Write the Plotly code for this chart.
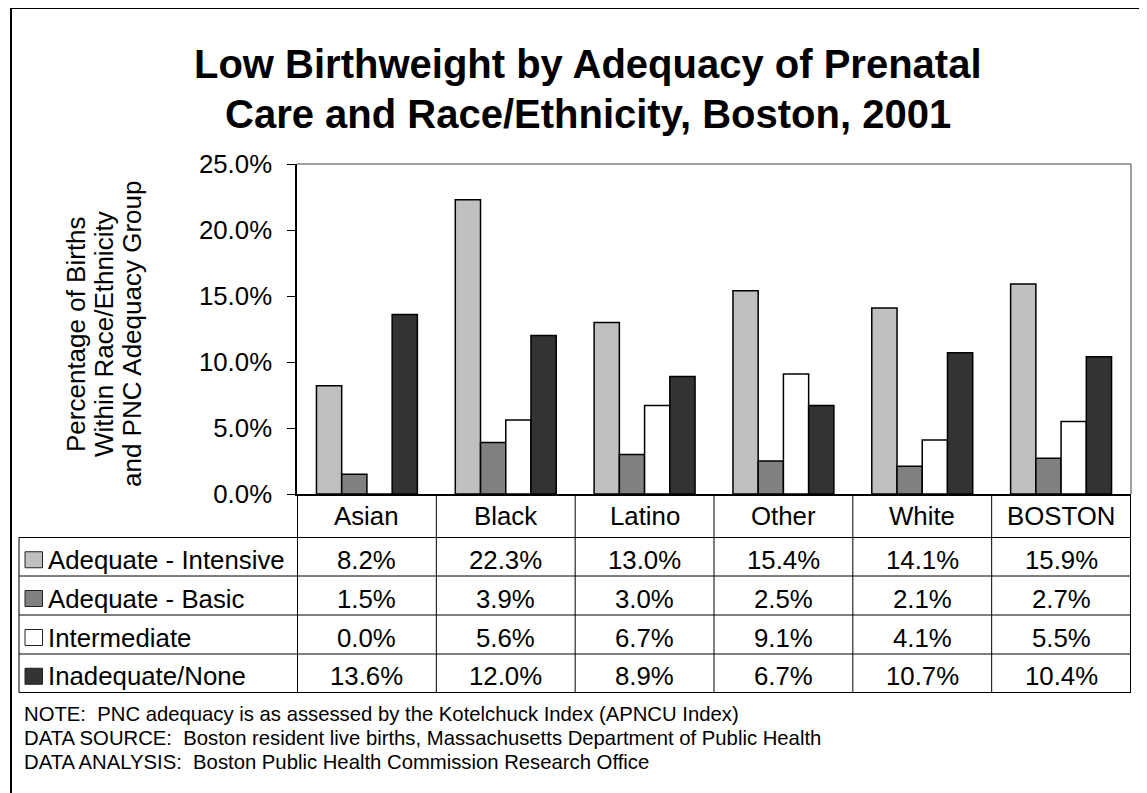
import plotly.graph_objects as go

FONT = "Arial, 'Liberation Sans', sans-serif"

categories = ["Asian", "Black", "Latino", "Other", "White", "BOSTON"]
series_names = ["Adequate - Intensive", "Adequate - Basic", "Intermediate", "Inadequate/None"]
adequate_intensive = [8.2, 22.3, 13.0, 15.4, 14.1, 15.9]
adequate_basic = [1.5, 3.9, 3.0, 2.5, 2.1, 2.7]
intermediate = [0.0, 5.6, 6.7, 9.1, 4.1, 5.5]
inadequate_none = [13.6, 12.0, 8.9, 6.7, 10.7, 10.4]
series_values = [adequate_intensive, adequate_basic, intermediate, inadequate_none]
series_colors = ["#c0c0c0", "#808080", "#ffffff", "#333333"]

title_lines = ["Low Birthweight by Adequacy of Prenatal",
               "Care and Race/Ethnicity, Boston, 2001"]
ytitle_lines = ["Percentage of Births", "Within Race/Ethnicity", "and PNC Adequacy Group"]
notes = [
    "NOTE:  PNC adequacy is as assessed by the Kotelchuck Index (APNCU Index)",
    "DATA SOURCE:  Boston resident live births, Massachusetts Department of Public Health",
    "DATA ANALYSIS:  Boston Public Health Commission Research Office",
]

# page body has an 8px margin, so the figure is shrunk and shifted to fit the window
OFF = 8
W, H = 1147 - OFF, 793 - OFF
L, R, T, B = 297 - OFF, 16, 164 - OFF, 299
PW, PH = W - L - R, H - T - B
TXT = 25.8


def px(x):
    # page pixel -> paper x
    return (x - OFF - L) / PW


def py(y):
    # page pixel -> paper y
    return (H - B - (y - OFF)) / PH


fig = go.Figure()
for name, vals, color in zip(series_names, series_values, series_colors):
    fig.add_trace(go.Bar(
        x=categories, y=[v / 100 for v in vals], name=name,
        marker=dict(color=color, line=dict(color="black", width=1.5)),
    ))

shapes = []
line_k = dict(color="black", width=1)
# outer frame
shapes.append(dict(type="rect", xref="paper", yref="paper",
                   x0=px(11), x1=px(1170), y0=py(8), y1=py(830),
                   line=dict(color="black", width=2)))
# plot area top/right border
shapes.append(dict(type="line", xref="paper", yref="paper",
                   x0=0, x1=1, y0=1, y1=1, line=dict(color="#808080", width=1.5)))
shapes.append(dict(type="line", xref="paper", yref="paper",
                   x0=1, x1=1, y0=0, y1=1, line=dict(color="#808080", width=1.5)))

# data table grid
row_edges = [537.5, 576, 615, 654, 692.5]
for y in row_edges:
    shapes.append(dict(type="line", xref="paper", yref="paper",
                       x0=px(19), x1=1, y0=py(y), y1=py(y), line=line_k))
shapes.append(dict(type="line", xref="paper", yref="paper",
                   x0=px(19), x1=px(19), y0=py(row_edges[0]), y1=py(row_edges[-1]), line=line_k))
for k in range(len(categories) + 1):
    shapes.append(dict(type="line", xref="x", yref="paper",
                       x0=k - 0.5, x1=k - 0.5, y0=0, y1=py(row_edges[-1]), line=line_k))

annotations = []
# title
for i, txt in enumerate(title_lines):
    annotations.append(dict(text=f"<b>{txt}</b>", xref="paper", yref="paper",
                            x=px(588), y=py(64 + 50 * i), xanchor="center", yanchor="middle",
                            showarrow=False, font=dict(family=FONT, size=40, color="black")))
# y-axis title
for i, txt in enumerate(ytitle_lines):
    annotations.append(dict(text=txt, xref="paper", yref="paper", textangle=-90,
                            x=px(76 + 28 * i), y=py(334), xanchor="center", yanchor="middle",
                            showarrow=False, font=dict(family=FONT, size=26, color="black")))
# header row
for c in categories:
    annotations.append(dict(text=c, xref="x", yref="paper", x=c, y=py(516),
                            xanchor="center", yanchor="middle", showarrow=False,
                            font=dict(family=FONT, size=TXT, color="black")))
# value rows with legend keys
for r, (name, vals, color) in enumerate(zip(series_names, series_values, series_colors)):
    yc = (row_edges[r] + row_edges[r + 1]) / 2 + 3
    shapes.append(dict(type="rect", xref="paper", yref="paper",
                       x0=px(25), x1=px(42.5), y0=py(yc - 8), y1=py(yc + 8),
                       fillcolor=color, line=dict(color="#222222", width=1)))
    annotations.append(dict(text=name, xref="paper", yref="paper", x=px(46), y=py(yc),
                            xanchor="left", yanchor="middle", showarrow=False,
                            font=dict(family=FONT, size=TXT, color="black")))
    for c, v in zip(categories, vals):
        annotations.append(dict(text=f"{v:.1f}%", xref="x", yref="paper", x=c, y=py(yc),
                                xanchor="center", yanchor="middle", showarrow=False,
                                font=dict(family=FONT, size=TXT, color="black")))
# notes
for i, txt in enumerate(notes):
    annotations.append(dict(text=txt, xref="paper", yref="paper", x=px(22), y=py(714 + 24 * i),
                            xanchor="left", yanchor="middle", showarrow=False,
                            font=dict(family=FONT, size=20.3, color="black")))

fig.update_layout(
    width=W, height=H,
    margin=dict(l=L, r=R, t=T, b=B, autoexpand=False),
    paper_bgcolor="white", plot_bgcolor="white",
    font=dict(family=FONT, color="black"),
    barmode="group", bargap=0.273, bargroupgap=0,
    showlegend=False,
    xaxis=dict(showticklabels=False, ticks="", showline=True, linecolor="black",
               linewidth=1.5, showgrid=False, zeroline=False),
    yaxis=dict(range=[0, 0.25], dtick=0.05, tickformat=".1%", ticks="outside",
               ticklen=8, tickcolor="black", showline=True, linecolor="black",
               linewidth=1.5, showgrid=False, zeroline=False, ticklabelstandoff=10,
               tickfont=dict(family=FONT, size=TXT, color="black")),
    shapes=shapes, annotations=annotations,
)

fig.write_html("out.html")
